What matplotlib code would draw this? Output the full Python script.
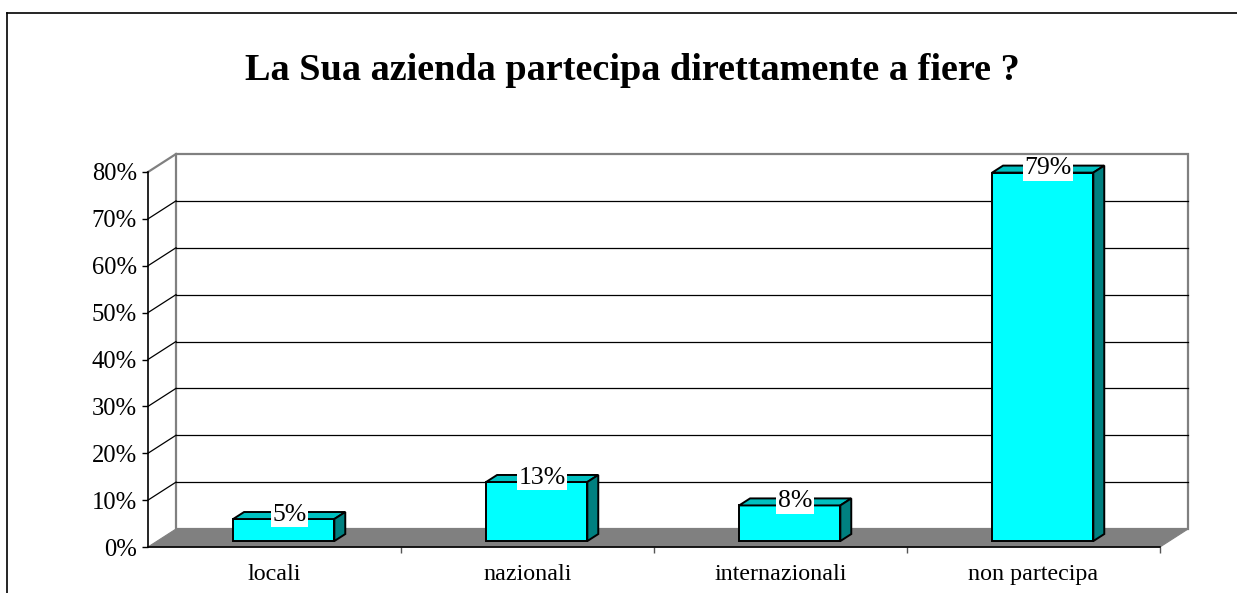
import matplotlib
matplotlib.use('Agg')
import matplotlib.pyplot as plt
from matplotlib.patches import Polygon
from matplotlib.lines import Line2D
from matplotlib.ticker import FuncFormatter

categories = ['locali', 'nazionali', 'internazionali', 'non partecipa']
values = [4.7, 12.6, 7.6, 78.6]
y_ticks = [0, 10, 20, 30, 40, 50, 60, 70, 80]
title = 'La Sua azienda partecipa direttamente a fiere ?'

plt.rcParams['font.family'] = ['Liberation Serif', 'DejaVu Serif']

# depth of the fake 3d box, in data units
DX = 0.1107
DY = 3.84
F1, F2 = 0.33, 0.72   # front / back of the bars inside the depth
BW = 0.4

fig = plt.figure(figsize=(12.37, 5.93), dpi=100)
ax = fig.add_axes([148 / 1237, 46 / 593, 1012 / 1237, 375 / 593])
ax.set_xlim(0, len(categories))
ax.set_ylim(0, y_ticks[-1])
ax.patch.set_visible(False)

n = len(categories)
ymax = y_ticks[-1]

# back wall
ax.add_patch(Polygon([(DX, DY), (n + DX, DY), (n + DX, ymax + DY), (DX, ymax + DY)],
                     closed=True, facecolor='white', edgecolor='#808080', lw=1.6,
                     clip_on=False, zorder=1))
# floor
ax.add_patch(Polygon([(0, 0), (n, 0), (n + DX, DY), (DX, DY)], closed=True,
                     facecolor='#808080', edgecolor='#808080', lw=0.8,
                     clip_on=False, zorder=2))

# gridlines on back wall + left side wall
for v in y_ticks[1:]:
    col = '#808080' if v == ymax else 'black'
    lw = 1.6 if v == ymax else 0.9
    if v != ymax:
        ax.plot([DX, n + DX], [v + DY, v + DY], color='black', lw=0.9,
                clip_on=False, zorder=1.5)
    ax.plot([0, DX], [v, v + DY], color=col, lw=lw, clip_on=False, zorder=1.5)

# bars
for i, v in enumerate(values):
    x0 = i + 0.5 - BW / 2 + F1 * DX
    x1 = x0 + BW
    y0 = F1 * DY
    ddx = (F2 - F1) * DX
    ddy = (F2 - F1) * DY
    ax.add_patch(Polygon([(x0, y0), (x1, y0), (x1, y0 + v), (x0, y0 + v)], closed=True,
                         facecolor='#00FFFF', edgecolor='black', lw=1.4,
                         clip_on=False, zorder=3, joinstyle='miter'))
    ax.add_patch(Polygon([(x0, y0 + v), (x1, y0 + v), (x1 + ddx, y0 + v + ddy),
                          (x0 + ddx, y0 + v + ddy)], closed=True,
                         facecolor='#00C0C0', edgecolor='black', lw=1.4,
                         clip_on=False, zorder=3, joinstyle='miter'))
    ax.add_patch(Polygon([(x1, y0), (x1 + ddx, y0 + ddy), (x1 + ddx, y0 + v + ddy),
                          (x1, y0 + v)], closed=True,
                         facecolor='#008080', edgecolor='black', lw=1.4,
                         clip_on=False, zorder=3, joinstyle='miter'))
    ax.text(x0 + BW / 2 + ddx / 2, y0 + v + ddy - 0.6, '%d%%' % round(v),
            ha='center', va='center', fontsize=18.5, zorder=5,
            bbox=dict(facecolor='white', edgecolor='none', pad=1.2))

# axes
for s in ['top', 'right']:
    ax.spines[s].set_visible(False)
for s in ['left', 'bottom']:
    ax.spines[s].set_color('black')
    ax.spines[s].set_linewidth(1.2)
    ax.spines[s].set_zorder(4)

ax.set_yticks(y_ticks)
ax.yaxis.set_major_formatter(FuncFormatter(lambda v, p: '%d%%' % v))
ax.tick_params(axis='y', length=4.5, width=1, pad=3.5, labelsize=17.7, direction='out')

ax.set_xticks([i + 0.5 for i in range(n)])
ax.set_xticklabels(categories)
ax.set_xticks(list(range(1, n + 1)), minor=True)
ax.tick_params(axis='x', which='major', length=0, pad=12, labelsize=17.3)
ax.tick_params(axis='x', which='minor', length=4.5, width=1, color='#555555', direction='out')

fig.text(632 / 1237, 1 - 71 / 593, title, ha='center', va='center',
         fontsize=27.5, fontweight='bold')

# outer chart frame
fig.add_artist(Line2D([7 / 1237, 1], [1 - 13 / 593, 1 - 13 / 593], color='black', lw=1.2))
fig.add_artist(Line2D([7 / 1237, 7 / 1237], [0, 1 - 13 / 593], color='black', lw=1.2))

fig.savefig('out.png', dpi=100, facecolor='white')
